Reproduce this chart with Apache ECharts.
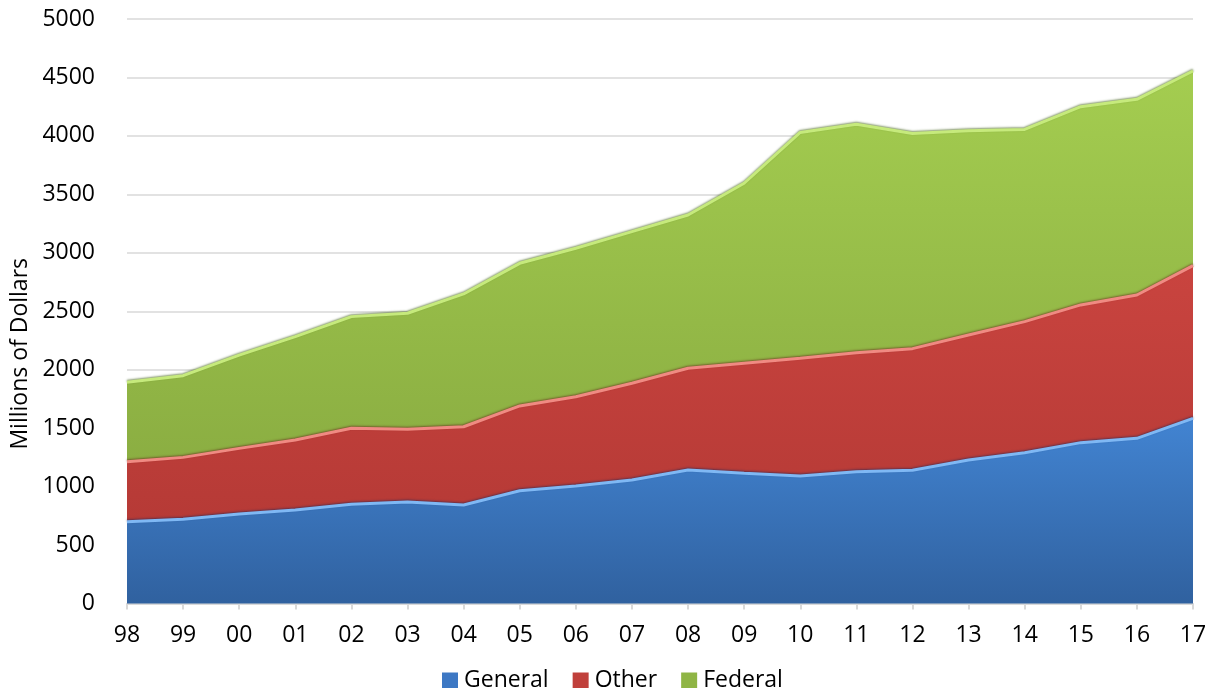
<!DOCTYPE html>
<html>
<head>
<meta charset="utf-8">
<script src="https://cdn.jsdelivr.net/npm/echarts@6/dist/echarts.min.js"></script>
<style>
html,body{margin:0;padding:0;background:#fff;}
#c{width:1219px;height:688px;}
</style>
</head>
<body>
<div id="c"></div>
<script>
var years = ['98','99','00','01','02','03','04','05','06','07','08','09','10','11','12','13','14','15','16','17'];
var general = [700,720,765,800,849,868,843,965,1005,1056,1142,1114,1090,1128,1140,1228,1290,1376,1413,1584];
var other = [513,530,562,599,650,622,669,725,764,828,870,941,1008,1018,1040,1069,1121,1178,1226,1306];
var federal = [679,699,798,884,955,993,1136,1220,1270,1297,1311,1540,1932,1954,1840,1748,1644,1696,1674,1665];
var yTicks = [0,500,1000,1500,2000,2500,3000,3500,4000,4500,5000];

var FONT = '"Open Sans", sans-serif';
function grad(a,b){return new echarts.graphic.LinearGradient(0,0,0,1,[{offset:0,color:a},{offset:1,color:b}]);}

var chart = echarts.init(document.getElementById('c'), null, {renderer:'canvas'});
chart.setOption({
  animation:false,
  backgroundColor:'#ffffff',
  grid:{left:127,right:26,top:19,bottom:84.5,containLabel:false},
  legend:{
    left:437, top:664, itemWidth:16, itemHeight:16, itemGap:24,
    icon:'rect',
    textStyle:{fontFamily:FONT,fontSize:23,color:'#000',padding:[0,0,0,1]},
    data:['General','Other','Federal']
  },
  xAxis:{
    type:'category', data:years, boundaryGap:false,
    axisLine:{show:true,lineStyle:{color:'#d9d9d9',width:2}},
    axisTick:{show:true,alignWithLabel:true,length:6,lineStyle:{color:'#d9d9d9',width:2}},
    axisLabel:{fontFamily:FONT,fontSize:23,color:'#000',margin:20,interval:0},
    splitLine:{show:false}
  },
  yAxis:{
    type:'value', min:0, max:5000, interval:500,
    axisLine:{show:false}, axisTick:{show:false},
    axisLabel:{fontFamily:FONT,fontSize:23,color:'#000',margin:32,
      formatter:function(v){return yTicks.indexOf(v)>=0?String(v):'';}},
    splitLine:{show:true,lineStyle:{color:'#d9d9d9',width:1.5}}
  },
  graphic:[{
    type:'text', left:9, top:258, rotation:Math.PI/2,
    style:{text:'Millions of Dollars',fontFamily:FONT,fontSize:23,fill:'#000'}
  }],
  series:[
    {name:'General',type:'line',stack:'t',data:general,showSymbol:false,symbol:'none',
      lineStyle:{color:'#7fb8f4',width:3,shadowColor:'rgba(20,40,90,0.5)',shadowBlur:2,shadowOffsetY:-1},
      itemStyle:{color:'#3d78c4'},
      areaStyle:{color:grad('#4284d2','#30619f'),opacity:1}},
    {name:'Other',type:'line',stack:'t',data:other,showSymbol:false,symbol:'none',
      lineStyle:{color:'#f08a82',width:3,shadowColor:'rgba(90,20,20,0.5)',shadowBlur:2,shadowOffsetY:-1},
      itemStyle:{color:'#c0403b'},
      areaStyle:{color:grad('#c9443f','#b63a36'),opacity:1}},
    {name:'Federal',type:'line',stack:'t',data:federal,showSymbol:false,symbol:'none',
      lineStyle:{color:'#c6ea7c',width:3,shadowColor:'rgba(60,90,20,0.6)',shadowBlur:2,shadowOffsetY:-1},
      itemStyle:{color:'#8fb545'},
      areaStyle:{color:grad('#a4cd50','#8bae42'),opacity:1}}
  ]
});
</script>
</body>
</html>
